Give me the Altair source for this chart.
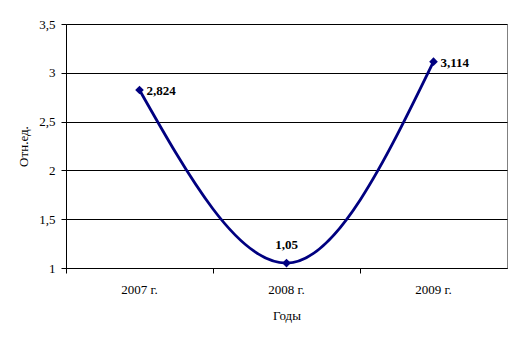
import altair as alt
import pandas as pd

years = ["2007 г.", "2008 г.", "2009 г."]
values = [2.824, 1.05, 3.114]
labels = ["2,824", "1,05", "3,114"]
label_pos = ["right", "top", "right"]

df = pd.DataFrame({"year": years, "value": values, "label": labels, "pos": label_pos})

FONT = "Liberation Serif"
NAVY = "#000080"

x_enc = alt.X("year:N", sort=years,
              scale=alt.Scale(type="band", paddingInner=0, paddingOuter=0),
              axis=alt.Axis(title="Годы", labelAngle=0, bandPosition=0,
                            domainColor="black", tickColor="black", tickSize=5,
                            labelFont=FONT, labelFontSize=13, labelColor="black",
                            titleFont=FONT, titleFontSize=13, titleFontWeight="normal",
                            titleColor="black", labelPadding=10, titlePadding=13,
                            grid=False))
y_enc = alt.Y("value:Q",
              scale=alt.Scale(domain=[1, 3.5], nice=False, zero=False),
              axis=alt.Axis(title="Отн.ед.", values=[1, 1.5, 2, 2.5, 3, 3.5],
                            labelExpr="replace(format(datum.value, '~g'), '.', ',')",
                            domainColor="black", tickColor="black", tickSize=5,
                            gridColor="black", gridWidth=1,
                            labelFont=FONT, labelFontSize=13, labelColor="black",
                            labelPadding=6,
                            titleFont=FONT, titleFontSize=13, titleFontWeight="normal",
                            titleColor="black", titlePadding=8))

base = alt.Chart(df)

line = base.mark_line(interpolate="monotone", color=NAVY, strokeWidth=2.8).encode(x=x_enc, y=y_enc)
pts = base.mark_point(shape="diamond", filled=True, color=NAVY, size=75, opacity=1).encode(x=x_enc, y=y_enc)

txt_right = base.transform_filter("datum.pos == 'right'").mark_text(
    align="left", baseline="middle", dx=7, dy=1, font=FONT, fontSize=13,
    fontWeight="bold", color="black").encode(x=x_enc, y=y_enc, text="label:N")
txt_top = base.transform_filter("datum.pos == 'top'").mark_text(
    align="center", baseline="middle", dy=-18, font=FONT, fontSize=13,
    fontWeight="bold", color="black").encode(x=x_enc, y=y_enc, text="label:N")

chart = alt.layer(line, pts, txt_right, txt_top).properties(
    width=441, height=244,
    autosize=alt.AutoSizeParams(type="none"),
    padding={"left": 66, "top": 24, "right": 14, "bottom": 71},
    background="white",
).configure_view(stroke="#808080", strokeWidth=1)

chart.save("out.html", embed_options={"renderer": "svg", "actions": False})
